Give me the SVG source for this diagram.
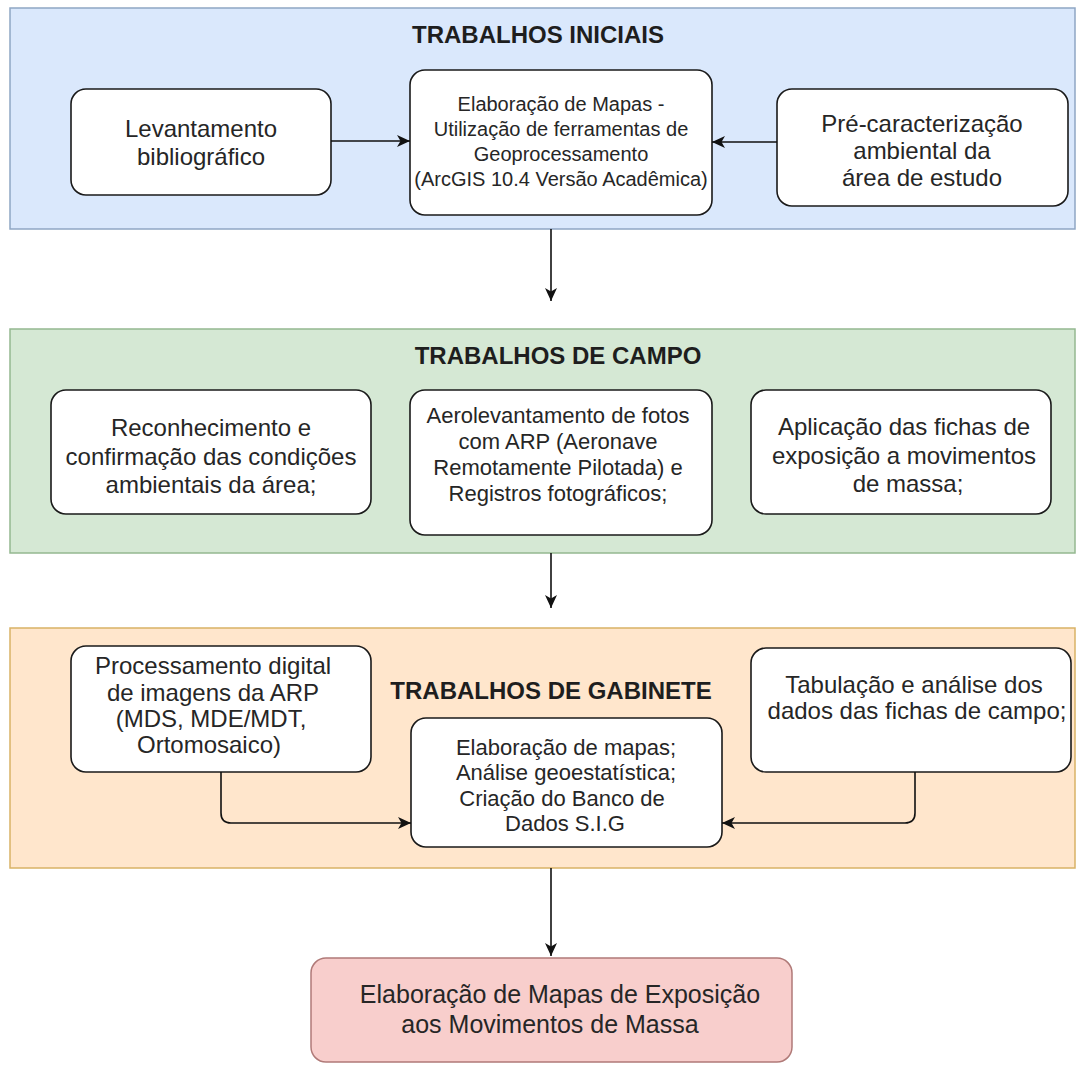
<svg xmlns="http://www.w3.org/2000/svg" width="1083" height="1066" viewBox="0 0 1083 1066">
<defs>
<marker id="arr" markerUnits="userSpaceOnUse" markerWidth="14" markerHeight="12" viewBox="0 0 14 12" refX="13" refY="6" orient="auto">
<path d="M0,0 L13,6 L0,12 L3.5,6 Z" fill="#111"/>
</marker>
<style>
.node{fill:#fff;stroke:#1a1a1a;stroke-width:1.6}
.t{font-family:"Liberation Sans",Arial,sans-serif;fill:#262626;text-anchor:middle}
.title{font-family:"Liberation Sans",Arial,sans-serif;font-weight:bold;font-size:24px;fill:#1e1e1e;text-anchor:middle}
.edge{fill:none;stroke:#111;stroke-width:1.6;marker-end:url(#arr)}
</style>
</defs>
<rect width="1083" height="1066" fill="#fff"/>

<g id="grp-iniciais">
<rect x="10" y="8" width="1065" height="221" fill="#dae8fc" stroke="#8fa6c4" stroke-width="1.5"/>
<text class="title" x="538" y="43">TRABALHOS INICIAIS</text>
</g>
<g id="n-levantamento">
<rect class="node" x="71" y="89" width="260" height="106" rx="15"/>
<text class="t" font-size="24" x="201" y="137">Levantamento</text>
<text class="t" font-size="24" x="201" y="165">bibliográfico</text>
</g>
<g id="n-mapas">
<rect class="node" x="410" y="70" width="302" height="145" rx="15"/>
<text class="t" font-size="20" x="561" y="111">Elaboração de Mapas -</text>
<text class="t" font-size="20" x="561" y="136">Utilização de ferramentas de</text>
<text class="t" font-size="20" x="561" y="161">Geoprocessamento</text>
<text class="t" font-size="20" x="561" y="186">(ArcGIS 10.4 Versão Acadêmica)</text>
</g>
<g id="n-pre">
<rect class="node" x="777" y="89" width="291" height="117" rx="15"/>
<text class="t" font-size="24" x="922" y="132">Pré-caracterização</text>
<text class="t" font-size="24" x="922" y="159">ambiental da</text>
<text class="t" font-size="24" x="922" y="186">área de estudo</text>
</g>

<g id="grp-campo">
<rect x="10" y="329" width="1065" height="224" fill="#d5e8d4" stroke="#94b890" stroke-width="1.5"/>
<text class="title" x="558" y="364">TRABALHOS DE CAMPO</text>
</g>
<g id="n-reconhecimento">
<rect class="node" x="51" y="390" width="320" height="124" rx="15"/>
<text class="t" font-size="24" x="211" y="436">Reconhecimento e</text>
<text class="t" font-size="24" x="211" y="465">confirmação das condições</text>
<text class="t" font-size="24" x="211" y="493">ambientais da área;</text>
</g>
<g id="n-aero">
<rect class="node" x="410" y="390" width="302" height="145" rx="15"/>
<text class="t" font-size="22" x="558" y="423">Aerolevantamento de fotos</text>
<text class="t" font-size="22" x="558" y="449">com ARP (Aeronave</text>
<text class="t" font-size="22" x="558" y="475">Remotamente Pilotada) e</text>
<text class="t" font-size="22" x="558" y="501">Registros fotográficos;</text>
</g>
<g id="n-aplicacao">
<rect class="node" x="751" y="390" width="300" height="124" rx="15"/>
<text class="t" font-size="24" x="904" y="435">Aplicação das fichas de</text>
<text class="t" font-size="24" x="904" y="464">exposição a movimentos</text>
<text class="t" font-size="24" x="908" y="492">de massa;</text>
</g>

<g id="grp-gabinete">
<rect x="10" y="628" width="1065" height="240" fill="#ffe6cc" stroke="#d9b266" stroke-width="1.5"/>
<text class="title" x="551" y="699">TRABALHOS DE GABINETE</text>
</g>
<g id="n-processamento">
<rect class="node" x="71" y="646" width="300" height="126" rx="15"/>
<text class="t" font-size="24" x="213" y="674">Processamento digital</text>
<text class="t" font-size="24" x="213" y="701">de imagens da ARP</text>
<text class="t" font-size="24" x="211" y="727">(MDS, MDE/MDT,</text>
<text class="t" font-size="24" x="209" y="753">Ortomosaico)</text>
</g>
<g id="n-sig">
<rect class="node" x="411" y="718" width="311" height="129" rx="15"/>
<text class="t" font-size="22" x="566" y="755">Elaboração de mapas;</text>
<text class="t" font-size="22" x="566" y="780">Análise geoestatística;</text>
<text class="t" font-size="22" x="562" y="806">Criação do Banco de</text>
<text class="t" font-size="22" x="565" y="831">Dados S.I.G</text>
</g>
<g id="n-tabulacao">
<rect class="node" x="751" y="648" width="320" height="124" rx="15"/>
<text class="t" font-size="24" x="914" y="693">Tabulação e análise dos</text>
<text class="t" font-size="24" x="917" y="719">dados das fichas de campo;</text>
</g>

<g id="n-final">
<rect x="311" y="958" width="481" height="104" rx="15" fill="#f8cecc" stroke="#b07a78" stroke-width="1.5"/>
<text class="t" font-size="25" x="560" y="1003">Elaboração de Mapas de Exposição</text>
<text class="t" font-size="25" x="550" y="1033">aos Movimentos de Massa</text>
</g>

<g id="connectors">
<path class="edge" d="M331,141 H410"/>
<path class="edge" d="M777,142 H712"/>
<path class="edge" d="M551,229 V301"/>
<path class="edge" d="M551,553 V608"/>
<path class="edge" d="M221,772 V813 Q221,823 231,823 H411"/>
<path class="edge" d="M915,772 V813 Q915,823 905,823 H722"/>
<path class="edge" d="M551,868 V956"/>
</g>
</svg>
